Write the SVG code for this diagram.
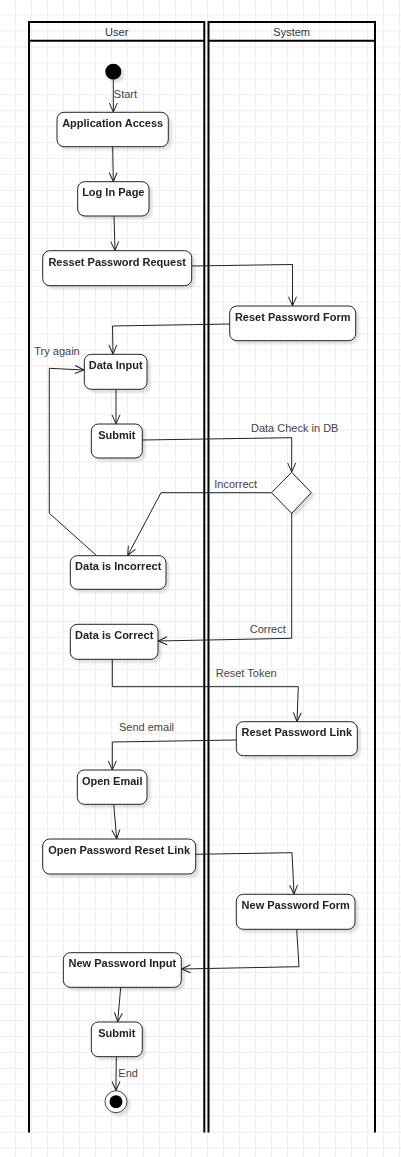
<svg xmlns="http://www.w3.org/2000/svg" width="401" height="1157" viewBox="0 0 401 1157">
<defs>
<pattern id="grid" x="15" y="14.5" width="16" height="15.96" patternUnits="userSpaceOnUse">
<rect x="0" y="0" width="1" height="15.96" fill="#eeeeee"/>
<rect x="0" y="0" width="16" height="1" fill="#eeeeee"/>
</pattern>
<filter id="sh" x="-20%" y="-20%" width="150%" height="160%">
<feDropShadow dx="3" dy="3" stdDeviation="1.2" flood-color="#000" flood-opacity="0.12"/>
</filter>
<marker id="arr" viewBox="-10 -5 12 10" refX="0" refY="0" markerWidth="12" markerHeight="10" markerUnits="userSpaceOnUse" orient="auto">
<path d="M-9,-4 L0,0 L-9,4" fill="none" stroke="#222" stroke-width="1"/>
</marker>
<style>
.node rect{fill:#fff;stroke:#222;stroke-width:1}
.nt{font-family:"Liberation Sans",Arial,sans-serif;font-size:11px;font-weight:bold;fill:#222;text-anchor:middle}
.lbl{font-family:"Liberation Sans",Arial,sans-serif;font-size:11px;fill:#444}
.hdr{font-family:"Liberation Sans",Arial,sans-serif;font-size:11px;fill:#333;text-anchor:middle}
.lane{fill:none;stroke:#000;stroke-width:2}
.c{fill:none;stroke:#222;stroke-width:1;marker-end:url(#arr)}
</style>
</defs>
<rect x="0" y="0" width="401" height="1157" fill="#fff"/>
<rect x="0" y="0" width="401" height="1157" fill="url(#grid)"/>

<g id="lane-user">
<path class="lane" d="M29,1132.5 L29,22 L204.3,22 L204.3,1132.5 M29,40.7 L204.3,40.7"/>
<text class="hdr" x="116.7" y="36">User</text>
</g>
<g id="lane-system">
<path class="lane" d="M208.5,1132.5 L208.5,22 L375,22 L375,1132.5 M208.5,40.7 L375,40.7"/>
<text class="hdr" x="291.7" y="36">System</text>
</g>

<g id="connectors">
<path class="c" d="M113.3,80 L113.3,112"/>
<text class="lbl" x="113.8" y="98">Start</text>
<path class="c" d="M112.7,146.7 L113.3,181.5"/>
<path class="c" d="M114,216 L115,250.5"/>
<path class="c" d="M191.7,266 L292.5,264.5 L292.5,305.8"/>
<path class="c" d="M229.7,324 L112.5,326 L113,354"/>
<path class="c" d="M116,389.3 L116,423.8"/>
<path class="c" d="M142.3,440 L291.7,437.7 L291.7,472"/>
<text class="lbl" x="251" y="431.5">Data Check in DB</text>
<path class="c" d="M271.5,492.7 L161,492.7 L127.7,555.5"/>
<text class="lbl" x="214.3" y="488">Incorrect</text>
<path class="c" d="M96.7,555.7 L49.3,513.3 L49.3,368.3 L84,370"/>
<text class="lbl" x="34.3" y="355">Try again</text>
<path class="c" d="M291.7,513 L291.7,638.3 L158.2,641"/>
<text class="lbl" x="249.7" y="632.5">Correct</text>
<path class="c" d="M112.3,659.3 L112.3,686.7 L298.3,686.7 L297,721.5"/>
<text class="lbl" x="215.7" y="677">Reset Token</text>
<path class="c" d="M236.3,740 L112.3,742 L112.3,769.8"/>
<text class="lbl" x="119" y="730.5">Send email</text>
<path class="c" d="M113.7,804.3 L116.7,838.8"/>
<path class="c" d="M195.7,854.3 L292,852.7 L294,894"/>
<path class="c" d="M296.7,929.3 L299,966.7 L181.5,969"/>
<path class="c" d="M120.7,987.3 L117.7,1021.8"/>
<path class="c" d="M116.3,1056.7 L115.9,1090.5"/>
<text class="lbl" x="118.3" y="1077">End</text>
</g>

<g id="start" filter="url(#sh)">
<circle cx="113.3" cy="71.7" r="8" fill="#000"/>
</g>
<g id="n-app" class="node" filter="url(#sh)">
<rect x="57" y="112.3" width="111.3" height="34.4" rx="7"/>
<text class="nt" x="112.7" y="127">Application Access</text>
</g>
<g id="n-login" class="node" filter="url(#sh)">
<rect x="77.7" y="181.7" width="71.3" height="34.3" rx="7"/>
<text class="nt" x="113.3" y="196.3">Log In Page</text>
</g>
<g id="n-resset" class="node" filter="url(#sh)">
<rect x="42.7" y="250.7" width="149" height="35" rx="7"/>
<text class="nt" x="117.2" y="265.5">Resset Password Request</text>
</g>
<g id="n-resetform" class="node" filter="url(#sh)">
<rect x="229.7" y="306" width="126" height="34.7" rx="7"/>
<text class="nt" x="292.7" y="320.6">Reset Password Form</text>
</g>
<g id="n-datainput" class="node" filter="url(#sh)">
<rect x="84.3" y="354.3" width="62.7" height="35" rx="7"/>
<text class="nt" x="115.7" y="369">Data Input</text>
</g>
<g id="n-submit1" class="node" filter="url(#sh)">
<rect x="91.3" y="424" width="51" height="34" rx="7"/>
<text class="nt" x="116.8" y="438.6">Submit</text>
</g>
<g id="n-decision" filter="url(#sh)">
<path d="M291.7,472.3 L311.3,492.7 L291.7,513.3 L271.5,492.7 Z" fill="#fff" stroke="#222" stroke-width="1"/>
</g>
<g id="n-incorrect" class="node" filter="url(#sh)">
<rect x="70.3" y="555.7" width="95.7" height="33.6" rx="7"/>
<text class="nt" x="118.2" y="570.3">Data is Incorrect</text>
</g>
<g id="n-correct" class="node" filter="url(#sh)">
<rect x="70.3" y="624.3" width="87.7" height="35" rx="7"/>
<text class="nt" x="114.2" y="638.8">Data is Correct</text>
</g>
<g id="n-rpl" class="node" filter="url(#sh)">
<rect x="236.3" y="721.7" width="121" height="34" rx="7"/>
<text class="nt" x="296.8" y="736.3">Reset Password Link</text>
</g>
<g id="n-openemail" class="node" filter="url(#sh)">
<rect x="77.3" y="770" width="69.7" height="34.3" rx="7"/>
<text class="nt" x="112.2" y="784.6">Open Email</text>
</g>
<g id="n-oprl" class="node" filter="url(#sh)">
<rect x="42.7" y="839" width="153" height="35" rx="7"/>
<text class="nt" x="119.2" y="853.6">Open Password Reset Link</text>
</g>
<g id="n-npf" class="node" filter="url(#sh)">
<rect x="236.3" y="894.3" width="118.7" height="35" rx="7"/>
<text class="nt" x="295.7" y="909">New Password Form</text>
</g>
<g id="n-npi" class="node" filter="url(#sh)">
<rect x="63.3" y="952.7" width="118" height="34.6" rx="7"/>
<text class="nt" x="122.3" y="967.4">New Password Input</text>
</g>
<g id="n-submit2" class="node" filter="url(#sh)">
<rect x="91.3" y="1022" width="51" height="34.7" rx="7"/>
<text class="nt" x="116.8" y="1036.6">Submit</text>
</g>
<g id="end" filter="url(#sh)">
<circle cx="116" cy="1101.7" r="11" fill="#fff" stroke="#444" stroke-width="1"/>
<circle cx="116" cy="1101.7" r="6.5" fill="#000"/>
</g>
</svg>
